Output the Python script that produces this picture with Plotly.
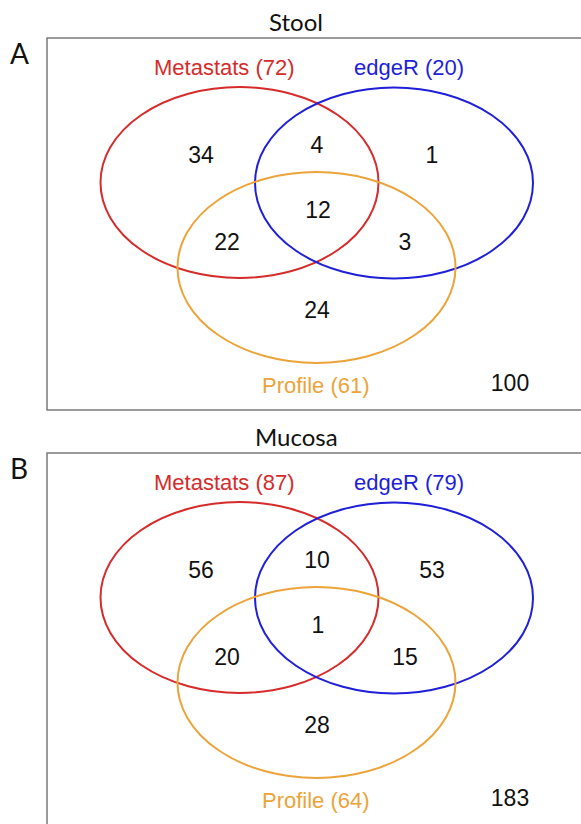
import plotly.graph_objects as go

# ---- data -------------------------------------------------------------
panel_titles = ["Stool", "Mucosa"]
panel_tags = ["A", "B"]
set_names = ["Metastats", "edgeR", "Profile"]
stool_totals = [72, 20, 61]
mucosa_totals = [87, 79, 64]
# region order: M only, M&E, E only, M&P, M&E&P, E&P, P only, none
stool_counts = [34, 4, 1, 22, 12, 3, 24, 100]
mucosa_counts = [56, 10, 53, 20, 1, 15, 28, 183]

# ---- layout (pixel coordinates within one panel) ----------------------
W, H = 581, 824
PANEL_STEP = 415
set_colors = ["#d62b2b", "#1f1fd8", "#eba43a"]
ell_centers = [(239.5, 182.5), (394.0, 183.0), (316.5, 267.5)]
ell_rx, ell_ry = 139.0, 95.5
set_label_pos = [(224, 67), (409, 67), (316, 385)]
region_pos = [(201, 157), (317, 147), (432, 157), (227, 244),
              (318, 212), (405, 244), (317, 312), (510, 385)]
box = dict(x0=47, y0=38, x1=600, y1=410)
title_pos = (296, 21)
tag_pos = (19, 53)

LABEL_FONT = "Liberation Sans, Arial, sans-serif"
TITLE_FONT = "Lato, Open Sans, sans-serif"

fig = go.Figure()
shapes, annotations = [], []

panels = [(stool_totals, stool_counts), (mucosa_totals, mucosa_counts)]
for p, (totals, counts) in enumerate(panels):
    dy = p * PANEL_STEP
    shapes.append(dict(type="rect", xref="x", yref="y",
                       x0=box["x0"], x1=box["x1"],
                       y0=box["y0"] + dy, y1=box["y1"] + dy,
                       line=dict(color="#7a7a7a", width=1.5),
                       fillcolor="rgba(0,0,0,0)", layer="below"))
    for (cx, cy), col in zip(ell_centers, set_colors):
        shapes.append(dict(type="circle", xref="x", yref="y",
                           x0=cx - ell_rx, x1=cx + ell_rx,
                           y0=cy - ell_ry + dy, y1=cy + ell_ry + dy,
                           line=dict(color=col, width=2),
                           fillcolor="rgba(0,0,0,0)"))
    for name, tot, (lx, ly), col in zip(set_names, totals, set_label_pos, set_colors):
        annotations.append(dict(x=lx, y=ly + dy, xref="x", yref="y",
                                text=f"{name} ({tot})", showarrow=False,
                                font=dict(family=LABEL_FONT, size=22, color=col)))
    fig.add_trace(go.Scatter(
        x=[pos[0] for pos in region_pos],
        y=[pos[1] + dy for pos in region_pos],
        text=[str(c) for c in counts],
        mode="text",
        textfont=dict(family=LABEL_FONT, size=23, color="#111111"),
        hoverinfo="text", showlegend=False))
    annotations.append(dict(x=title_pos[0], y=title_pos[1] + dy, xref="x", yref="y",
                            text=panel_titles[p], showarrow=False,
                            font=dict(family=TITLE_FONT, size=24, color="#111111")))
    annotations.append(dict(x=tag_pos[0], y=tag_pos[1] + dy, xref="x", yref="y",
                            text=panel_tags[p], showarrow=False,
                            font=dict(family=TITLE_FONT, size=28, color="#111111")))

fig.update_layout(
    width=W, height=H,
    margin=dict(l=0, r=0, t=0, b=0),
    paper_bgcolor="white", plot_bgcolor="white",
    shapes=shapes, annotations=annotations,
    xaxis=dict(range=[0, W], visible=False, fixedrange=True),
    yaxis=dict(range=[H, 0], visible=False, fixedrange=True),
)

fig.write_html("out.html")
